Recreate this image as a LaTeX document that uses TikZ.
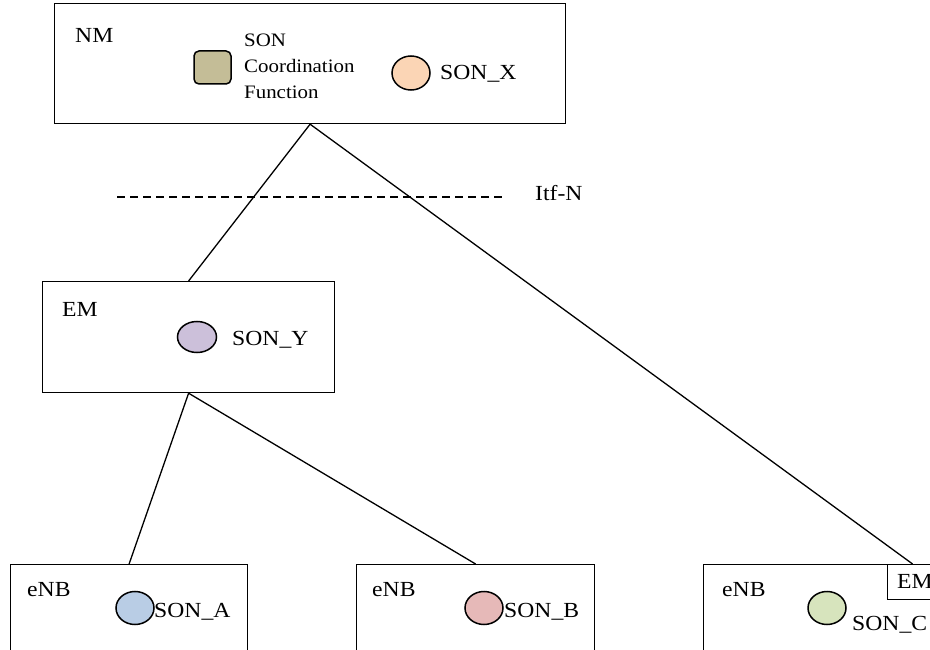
\documentclass[tikz,border=0pt]{standalone}
\usepackage{fontspec}
\setmainfont{Liberation Serif}[FakeStretch=1.1]
\usetikzlibrary{shapes.geometric}
\definecolor{coordc}{HTML}{C4BD97}
\definecolor{sonxc}{HTML}{FBD5B5}
\definecolor{sonyc}{HTML}{CCC0DA}
\definecolor{sonac}{HTML}{B9CDE5}
\definecolor{sonbc}{HTML}{E6B9B8}
\definecolor{soncc}{HTML}{D7E4BD}
\begin{document}
\begin{tikzpicture}[x=1pt,y=-1pt,
  box/.style={draw, line width=1.2pt, inner sep=0pt, anchor=north west, fill=white},
  son/.style={draw, ellipse, line width=1.5pt, inner sep=0pt, minimum width=38pt, minimum height=33pt},
  lbl/.style={font=\fontsize{21.5}{25}\selectfont, anchor=base west, inner sep=0pt},
  conn/.style={line width=1.3pt}]
\useasboundingbox (0,0) rectangle (930,650);
% boxes
\node[box, minimum width=511pt, minimum height=120pt] (nm) at (54,3) {};
\node[box, minimum width=292pt, minimum height=111pt] (em) at (42,281) {};
\node[box, minimum width=237pt, minimum height=100pt] (enb1) at (10,564) {};
\node[box, minimum width=238pt, minimum height=100pt] (enb2) at (356,564) {};
\node[box, minimum width=240pt, minimum height=100pt] (enb3) at (703,564) {};
\node[box, minimum width=50pt, minimum height=35pt] (emc) at (887,564) {};
% connectors
\draw[conn] (nm.south) -- (em.north);
\draw[conn] (nm.south) -- (emc.north);
\draw[conn] (em.south) -- (enb1.north);
\draw[conn] (em.south) -- (enb2.north);
\coordinate (d1) at (117,197);
\coordinate (d2) at (502,197);
\draw[conn, dash pattern=on 8pt off 5pt] (d1) -- (d2);
\node[lbl] (itf) at (535,201) {Itf-N};
% NM contents
\node[lbl] (nmt) at (75,43) {NM};
\node[draw, rounded corners=5pt, fill=coordc, line width=1.5pt, minimum width=37pt, minimum height=33pt, inner sep=0pt] (cf) at (212.5,67.5) {};
\node[anchor=base west, align=left, inner sep=0pt, font=\fontsize{19}{26}\selectfont] (cft) at (244,99) {SON\\Coordination\\Function};
\node[son, fill=sonxc, minimum height=34pt] (sonx) at (411,73) {};
\node[lbl] (sonxt) at (440,80) {SON\_X};
% EM contents
\node[lbl] (emt) at (62,316) {EM};
\node[son, fill=sonyc, minimum width=39pt, minimum height=31pt] (sony) at (197,337) {};
\node[lbl] (sonyt) at (232,345) {SON\_Y};
% eNB contents
\node[lbl] (e1t) at (27,596) {eNB};
\node[son, fill=sonac] (sona) at (135,608) {};
\node[lbl] (sonat) at (154,617) {SON\_A};
\node[lbl] (e2t) at (372,596) {eNB};
\node[son, fill=sonbc] (sonb) at (484,608) {};
\node[lbl] (sonbt) at (504,617) {SON\_B};
\node[lbl] (e3t) at (722,596) {eNB};
\node[son, fill=soncc] (sonc) at (827,608) {};
\node[lbl] (sonct) at (852,630) {SON\_C};
\node[lbl] (emct) at (897,588) {EM};
\end{tikzpicture}
\end{document}
